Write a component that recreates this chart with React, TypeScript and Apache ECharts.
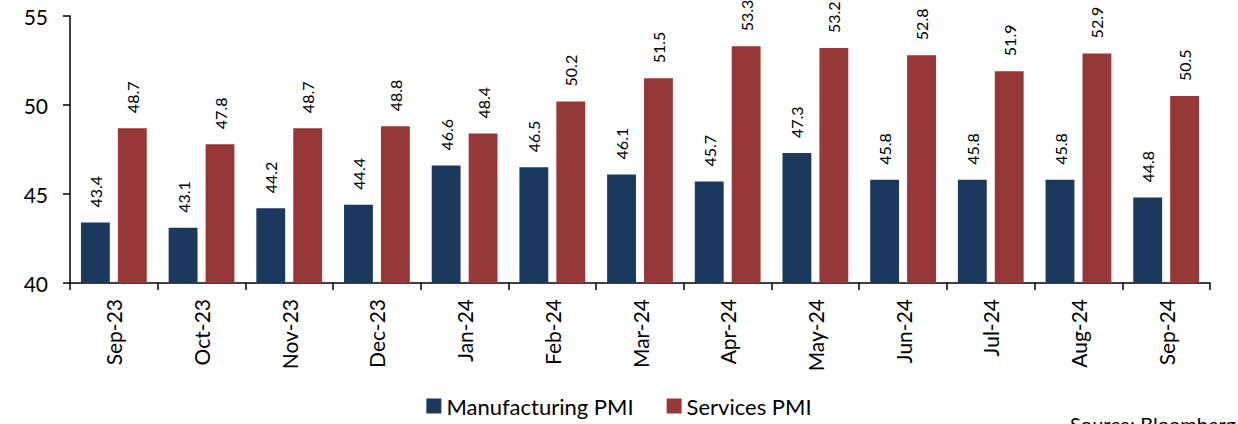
import React, { useEffect, useRef } from "react";
import * as echarts from "echarts";

const months = [
  "Sep-23", "Oct-23", "Nov-23", "Dec-23", "Jan-24", "Feb-24", "Mar-24",
  "Apr-24", "May-24", "Jun-24", "Jul-24", "Aug-24", "Sep-24",
];
const manufacturingPMI = [43.4, 43.1, 44.2, 44.4, 46.6, 46.5, 46.1, 45.7, 47.3, 45.8, 45.8, 45.8, 44.8];
const servicesPMI = [48.7, 47.8, 48.7, 48.8, 48.4, 50.2, 51.5, 53.3, 53.2, 52.8, 51.9, 52.9, 50.5];

const FONT = "Lato, 'Open Sans', sans-serif";
const NAVY = "#1b385d";
const RED = "#953837";

export default function App() {
  const ref = useRef<HTMLDivElement>(null);

  useEffect(() => {
    if (!ref.current) return;
    const chart = echarts.init(ref.current, undefined, { renderer: "svg" });

    const valueLabel = {
      show: true,
      position: "top" as const,
      rotate: 90,
      align: "left" as const,
      verticalAlign: "middle" as const,
      distance: 15,
      color: "#000",
      fontSize: 16,
      fontFamily: FONT,
      formatter: (p: any) => Number(p.value).toFixed(1),
    };

    chart.setOption({
      animation: false,
      textStyle: { fontFamily: FONT },
      grid: { left: 70, right: 28, top: 16, bottom: 141, containLabel: false },
      legend: {
        bottom: 2,
        left: "center",
        itemWidth: 15,
        itemHeight: 15,
        itemGap: 33,
        icon: "rect",
        textStyle: { fontSize: 22, color: "#000", fontFamily: FONT },
        data: ["Manufacturing PMI", "Services PMI"],
      },
      xAxis: {
        type: "category",
        data: months,
        axisLine: { show: true, lineStyle: { color: "#000", width: 1.5 } },
        axisTick: { show: true, length: 7, alignWithLabel: false, lineStyle: { color: "#000", width: 1.5 } },
        axisLabel: { rotate: 90, fontSize: 21, color: "#000", margin: 16, fontFamily: FONT },
      },
      yAxis: {
        type: "value",
        min: 40,
        max: 55,
        interval: 5,
        splitLine: { show: false },
        axisLine: { show: true, lineStyle: { color: "#000", width: 1.5 } },
        axisTick: { show: true, length: 7, lineStyle: { color: "#000", width: 1.5 } },
        axisLabel: { fontSize: 21, color: "#000", margin: 22, fontFamily: FONT },
      },
      series: [
        {
          name: "Manufacturing PMI",
          type: "bar",
          data: manufacturingPMI,
          itemStyle: { color: NAVY },
          barGap: "28%",
          barCategoryGap: "25%",
          label: valueLabel,
        },
        {
          name: "Services PMI",
          type: "bar",
          data: servicesPMI,
          itemStyle: { color: RED },
          barGap: "28%",
          barCategoryGap: "25%",
          label: valueLabel,
        },
      ],
      graphic: [
        {
          type: "text",
          left: 1070,
          top: 414,
          style: { text: "Source: Bloomberg", fontSize: 20, fill: "#000", fontFamily: FONT },
        },
      ],
    });

    return () => chart.dispose();
  }, []);

  return (
    <div
      ref={ref}
      style={{ position: "absolute", left: 0, top: 0, width: 1238, height: 424, background: "#fff" }}
    />
  );
}
